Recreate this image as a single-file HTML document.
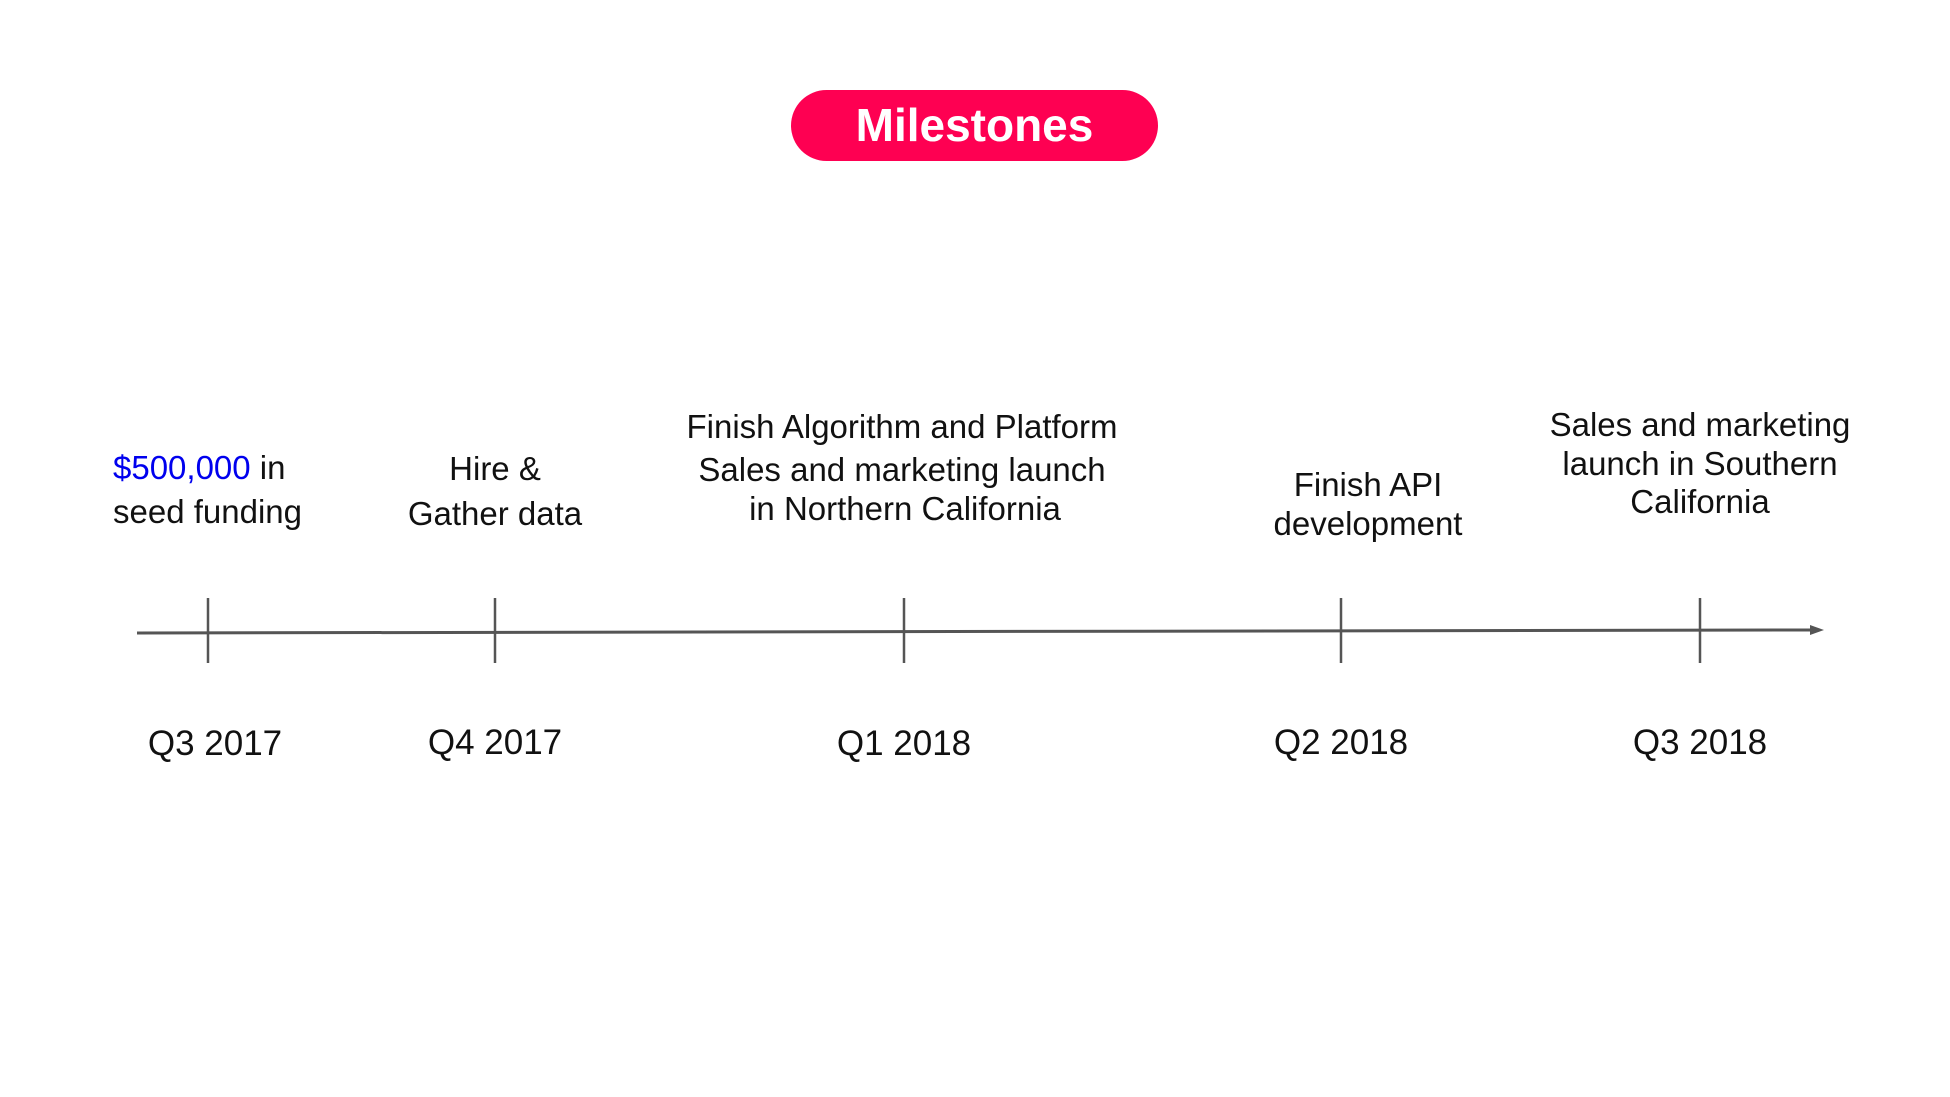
<!DOCTYPE html>
<html><head><meta charset="utf-8"><style>
body{margin:0;width:1950px;height:1097px;background:#fff;position:relative;overflow:hidden;font-family:"Liberation Sans",sans-serif;color:#111}
.t{position:absolute;white-space:nowrap;transform:translate(-50%,-50%);font-size:33px}
.l{position:absolute;white-space:nowrap;transform:translateY(-50%);font-size:33px}
.q{position:absolute;white-space:nowrap;transform:translate(-50%,-50%);font-size:35px}
.pill{position:absolute;left:791px;top:90px;width:367px;height:71px;border-radius:36px;background:#fe0052;color:#fff;font-weight:bold;font-size:46px;text-align:center;line-height:71px}
</style></head><body>
<div class="pill">Milestones</div>
<svg width="1950" height="1097" style="position:absolute;left:0;top:0">
<line x1="137" y1="633" x2="1812" y2="630" stroke="#555" stroke-width="3"/>
<polygon points="1824,630 1810,625 1810,635" fill="#555"/>
<g stroke="#555" stroke-width="2.5">
<line x1="208" y1="598" x2="208" y2="663"/>
<line x1="495" y1="598" x2="495" y2="663"/>
<line x1="904" y1="598" x2="904" y2="663"/>
<line x1="1341" y1="598" x2="1341" y2="663"/>
<line x1="1700" y1="598" x2="1700" y2="663"/>
</g>
</svg>
<div class="l" style="left:113px;top:468px"><span style="color:#0000ee">$500,000</span> in</div>
<div class="l" style="left:113px;top:512px">seed funding</div>
<div class="t" style="left:495px;top:469px">Hire &amp;</div>
<div class="t" style="left:495px;top:514px">Gather data</div>
<div class="t" style="left:902px;top:427px">Finish Algorithm and Platform</div>
<div class="t" style="left:902px;top:470px">Sales and marketing launch</div>
<div class="t" style="left:905px;top:509px">in Northern California</div>
<div class="t" style="left:1368px;top:485px">Finish API</div>
<div class="t" style="left:1368px;top:524px">development</div>
<div class="t" style="left:1700px;top:425px">Sales and marketing</div>
<div class="t" style="left:1700px;top:464px">launch in Southern</div>
<div class="t" style="left:1700px;top:502px">California</div>
<div class="q" style="left:215px;top:744px">Q3 2017</div>
<div class="q" style="left:495px;top:743px">Q4 2017</div>
<div class="q" style="left:904px;top:744px">Q1 2018</div>
<div class="q" style="left:1341px;top:743px">Q2 2018</div>
<div class="q" style="left:1700px;top:743px">Q3 2018</div>
</body></html>
